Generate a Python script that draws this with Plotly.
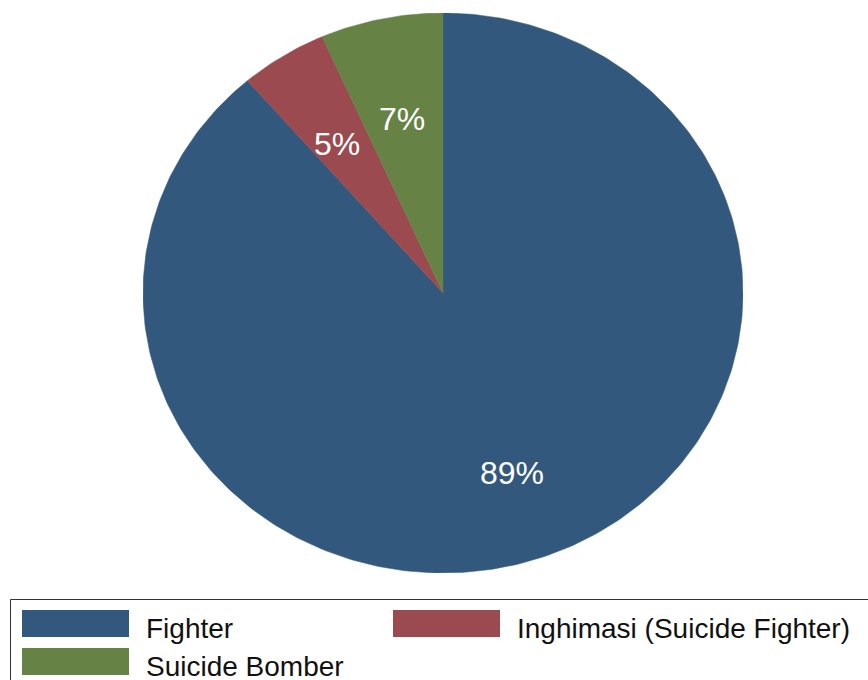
import math
import plotly.graph_objects as go

# ---- data ----
categories = ["Fighter", "Inghimasi (Suicide Fighter)", "Suicide Bomber"]
values = [88.7, 4.7, 6.6]
colors = ["#32597D", "#9B4A50", "#668245"]

W, H = 868, 680
ML, MR, MT, MB = 143, 125, 13, 107
PW, PH = W - ML - MR, H - MT - MB
FONT = "Liberation Sans, Arial, sans-serif"

fig = go.Figure()

total = sum(values)
cum = 0.0
annotations = []
for cat, v, c in zip(categories, values, colors):
    f0 = cum / total
    f1 = (cum + v) / total
    n = max(4, int((f1 - f0) * 400))
    xs, ys = [0.0], [0.0]
    for i in range(n + 1):
        th = 2 * math.pi * (f0 + (f1 - f0) * i / n)
        xs.append(math.sin(th))
        ys.append(math.cos(th))
    xs.append(0.0)
    ys.append(0.0)
    fig.add_trace(go.Scatter(x=xs, y=ys, fill="toself", fillcolor=c, mode="lines",
                             line=dict(color=c, width=0.5), name=cat,
                             showlegend=False, hoverinfo="name"))
    thm = 2 * math.pi * (f0 + f1) / 2
    r = 0.66
    annotations.append(dict(xref="x", yref="y", x=r * math.sin(thm), y=r * math.cos(thm),
                            text=f"{round(v / total * 100)}%", showarrow=False,
                            xanchor="center", yanchor="middle", yshift=-7,
                            font=dict(size=32, color="white", family=FONT)))
    cum += v


def px2x(px):
    return (px - ML) / PW


def py2y(py):
    return (H - MB - py) / PH


shapes = []
# legend frame
shapes.append(dict(type="rect", xref="paper", yref="paper",
                   x0=px2x(10.5), x1=px2x(900), y0=py2y(599.5), y1=py2y(720),
                   line=dict(color="#333333", width=1), fillcolor="rgba(0,0,0,0)"))
# legend entries: 2 columns
slots = [(22, 610), (393, 610), (22, 648)]
for (sx, sy), cat, c in zip(slots, categories, colors):
    shapes.append(dict(type="rect", xref="paper", yref="paper",
                       x0=px2x(sx), x1=px2x(sx + 107), y0=py2y(sy), y1=py2y(sy + 27),
                       line=dict(width=0), fillcolor=c))
    annotations.append(dict(xref="paper", yref="paper", x=px2x(sx + 122), y=py2y(sy + 18),
                            text=cat, showarrow=False, xanchor="left", yanchor="middle",
                            font=dict(size=28, color="#111111", family=FONT)))

fig.update_layout(
    width=W, height=H,
    margin=dict(l=ML, r=MR, t=MT, b=MB),
    paper_bgcolor="white", plot_bgcolor="white",
    xaxis=dict(range=[-1, 1], visible=False, fixedrange=True),
    yaxis=dict(range=[-1, 1], visible=False, fixedrange=True),
    shapes=shapes, annotations=annotations,
    showlegend=False,
)

fig.write_html("out.html", config={"displayModeBar": False},
               post_script="document.body.style.margin='0';document.body.style.overflow='hidden';")
